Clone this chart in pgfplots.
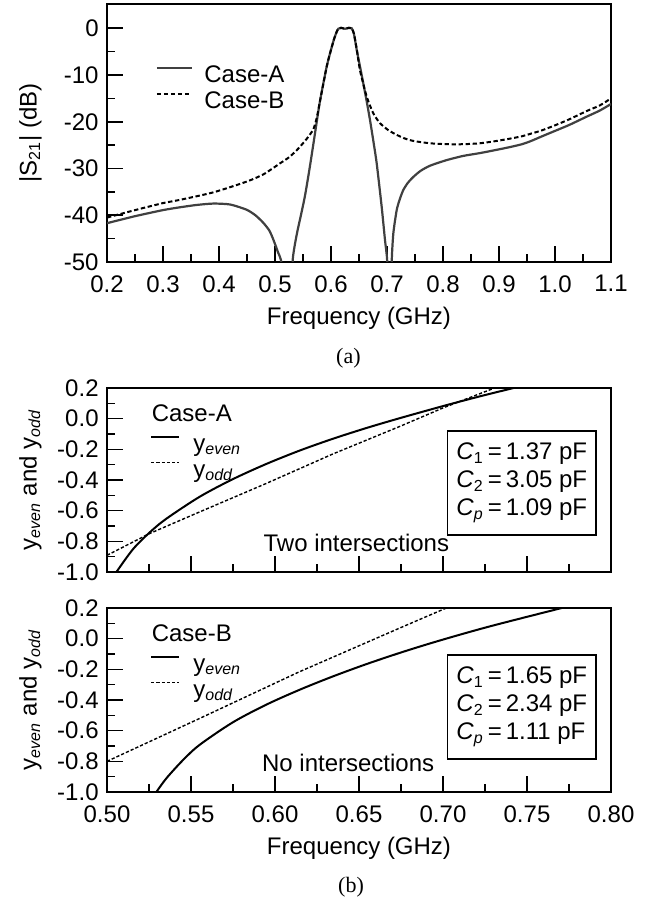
\documentclass[border=0pt]{standalone}
\usepackage{fontspec}
\setmainfont{Liberation Sans}
\newfontfamily\capfont{Liberation Serif}
\usepackage{pgfplots}
\pgfplotsset{compat=1.18}

\tikzset{
  cbox/.style={draw, line width=0.8pt, align=left, inner xsep=4.5pt, inner ysep=6pt,
    font=\fontsize{12}{12.5}\selectfont},
}
\pgfplotsset{
  myaxis/.style={
    scale only axis, width=252pt,
    tick pos=left, tick align=inside,
    major tick length=8pt, minor tick length=4pt,
    tick style={line width=0.8pt, black},
    minor tick num=1,
    axis line style={line width=1.3pt},
    /pgf/number format/assume math mode=true,
    tick label style={font=\fontsize{12}{14}\selectfont},
    xticklabel style={yshift=-2.5pt},
    label style={font=\fontsize{12}{14}\selectfont},
    xlabel style={at={(axis description cs:0.5,0)}, anchor=center, yshift=-28pt},
    ylabel style={at={(axis description cs:-0.152,0.5)}, anchor=center},
    legend cell align=left,
  },
  solidA/.style={black!75, line width=1.1pt},
  dashB/.style={black, line width=1pt, dash pattern=on 2.2pt off 1.3pt},
  solidE/.style={black, line width=1pt},
  dashO/.style={black, line width=0.7pt, dash pattern=on 1.6pt off 1pt},
}

\pgfplotstableread{
f db
0.200 -41.7
0.250 -40.2
0.300 -38.9
0.330 -38.3
0.360 -37.8
0.390 -37.5
0.420 -37.7
0.449 -38.8
0.465 -40.0
0.479 -41.6
0.490 -43.3
0.497 -45.2
0.505 -47.8
0.512 -50.5
0.515 -60
0.518 -75
0.528 -75
0.531 -55
0.5316 -49.6
0.535 -46.6
0.540 -43.4
0.547 -39.6
0.5536 -35.8
0.562 -29.8
0.5714 -22.5
0.580 -15.8
0.5923 -8.2
0.600 -4.6
0.606 -2.1
0.610 -0.8
0.613 -0.1
0.618 0.1
0.625 -0.1
0.632 0.1
0.637 0
0.641 -1.2
0.6459 -4.6
0.652 -8.3
0.6577 -11.8
0.6637 -15.6
0.6696 -19.6
0.6756 -24.1
0.6816 -28.9
0.6905 -38.2
0.6964 -45.3
0.7005 -50
0.7025 -60
0.704 -75
0.706 -75
0.7075 -60
0.7084 -50
0.7113 -43.9
0.7173 -38.9
0.7230 -36.5
0.7291 -34.6
0.737 -33.1
0.747 -31.8
0.760 -30.5
0.7768 -29.4
0.8066 -28.2
0.8363 -27.3
0.866 -26.7
0.8959 -26.0
0.920 -25.4
0.9411 -24.8
0.9554 -24.2
0.975 -23.2
0.997 -22.1
1.025 -20.7
1.0566 -18.9
1.080 -17.6
1.100 -16.2
}\caseA

\pgfplotstableread{
f db
0.200 -40.5
0.250 -38.9
0.300 -37.4
0.3304 -36.7
0.3899 -35.1
0.4494 -32.8
0.480 -31.2
0.5089 -28.9
0.525 -27.6
0.5387 -26.1
0.555 -23.9
0.5685 -21.6
0.575 -18.9
0.580 -15.8
0.5923 -8.2
0.600 -4.6
0.606 -2.1
0.610 -0.8
0.613 -0.1
0.618 0.1
0.625 -0.1
0.632 0.1
0.637 0
0.641 -1.2
0.6459 -4.4
0.6518 -9.0
0.6637 -14.6
0.6756 -18.2
0.6875 -20.3
0.7025 -21.8
0.7173 -22.8
0.730 -23.5
0.747 -24.1
0.7768 -24.6
0.8066 -24.8
0.8363 -24.8
0.866 -24.6
0.8959 -24.1
0.920 -23.6
0.9411 -23.1
0.9554 -22.6
0.975 -21.9
0.997 -20.9
1.025 -19.5
1.0566 -17.7
1.080 -16.5
1.100 -15.0
}\caseB

\pgfplotstableread{
f y
0.504 -1.03
0.5056 -1.0
0.5155 -0.851
0.5254 -0.742
0.5354 -0.652
0.5552 -0.509
0.575 -0.394
0.5949 -0.295
0.6147 -0.208
0.6345 -0.131
0.6544 -0.061
0.6742 0.003
0.700 0.082
0.720 0.140
0.742 0.2
0.746 0.21
}\evenA

\pgfplotstableread{
f y
0.500 -0.891
0.5254 -0.749
0.5552 -0.608
0.5949 -0.422
0.6345 -0.230
0.6742 -0.051
0.700 0.070
0.7307 0.2
0.734 0.215
}\oddA

\pgfplotstableread{
f y
0.528 -1.03
0.5294 -1.0
0.5354 -0.910
0.5453 -0.791
0.5552 -0.692
0.575 -0.545
0.5949 -0.430
0.6147 -0.333
0.6345 -0.246
0.6544 -0.166
0.6742 -0.093
0.6923 -0.031
0.712 0.032
0.732 0.092
0.7696 0.197
0.774 0.21
}\evenB

\pgfplotstableread{
f y
0.500 -0.80
0.5552 -0.520
0.6147 -0.215
0.6742 0.069
0.702 0.2
0.705 0.214
}\oddB

\begin{document}
\fontsize{12}{14}\selectfont
\begin{tikzpicture}
\useasboundingbox (-53.5pt,-56pt) rectangle (271pt,396pt);

% ---------- (a) ----------
\begin{axis}[myaxis, name=top, at={(0pt,265pt)}, anchor=south west, height=129pt,
  xmin=0.2, xmax=1.1, ymin=-50, ymax=5.2,
  xtick={0.2,0.3,0.4,0.5,0.6,0.7,0.8,0.9,1.0,1.1},
  ytick={-50,-40,-30,-20,-10,0},
  xticklabel style={/pgf/number format/.cd, fixed, fixed zerofill, precision=1},
  yticklabel style={/pgf/number format/.cd, fixed, precision=0},
  xlabel={Frequency (GHz)},
  ylabel={|S\textsubscript{21}| (dB)},
  legend image code/.code={\draw[#1] (0pt,4.3pt) -- (17.4pt,4.3pt);},
  legend style={at={(axis description cs:0.096,0.768)}, anchor=north west,
    draw=none, fill=none, inner sep=0pt, row sep=1pt,
    nodes={inner sep=0pt, text height=9pt, text depth=3pt},
    /tikz/every odd column/.append style={column sep=5.8pt},
    font=\fontsize{12}{14}\selectfont},
]
\addplot[solidA, smooth, tension=0.4] table[x=f, y=db] {\caseA};
\addlegendentry{Case-A}
\addplot[dashB, smooth, tension=0.4] table[x=f, y=db] {\caseB};
\addlegendentry{Case-B}
\end{axis}

% ---------- (b) upper ----------
\begin{axis}[myaxis, at={(0pt,110pt)}, anchor=south west, height=92pt,
  xmin=0.5, xmax=0.8, ymin=-1, ymax=0.2,
  xtick={0.5,0.55,0.6,0.65,0.7,0.75,0.8},
  ytick={-1,-0.8,-0.6,-0.4,-0.2,0,0.2},
  xticklabels={},
  yticklabel style={/pgf/number format/.cd, fixed, fixed zerofill, precision=1},
  ylabel={y\textsubscript{\textit{even}} and y\textsubscript{\textit{odd}}},
  legend image code/.code={\draw[#1] (0pt,4.3pt) -- (14.1pt,4.3pt);},
  legend style={at={(axis description cs:0.085,0.757)}, anchor=north west,
    draw=none, fill=none, inner sep=0pt, row sep=1pt,
    nodes={inner sep=0pt, text height=9pt, text depth=3pt},
    /tikz/every odd column/.append style={column sep=6.5pt},
    font=\fontsize{12}{14}\selectfont},
]
\addplot[solidE, smooth] table[x=f, y=y] {\evenA};
\addlegendentry{y\textsubscript{\textit{even}}}
\addplot[dashO] table[x=f, y=y] {\oddA};
\addlegendentry{y\textsubscript{\textit{odd}}}
\node[anchor=west, inner sep=0pt] at (axis description cs:0.088,0.864) {Case-A};
\node[cbox] at (axis description cs:0.823,0.484)
  {\textit{C}\textsubscript{1}\,=\,1.37 pF\\[1.5pt]\textit{C}\textsubscript{2}\,=\,3.05 pF\\[1.5pt]\textit{C}\textsubscript{\textit{p}}\,=\,1.09 pF};
\node[anchor=west, inner sep=0pt] at (axis description cs:0.310,0.156) {Two intersections};
\end{axis}

% ---------- (b) lower ----------
\begin{axis}[myaxis, name=bot, at={(0pt,0pt)}, anchor=south west, height=92pt,
  xmin=0.5, xmax=0.8, ymin=-1, ymax=0.2,
  xtick={0.5,0.55,0.6,0.65,0.7,0.75,0.8},
  ytick={-1,-0.8,-0.6,-0.4,-0.2,0,0.2},
  xticklabel style={/pgf/number format/.cd, fixed, fixed zerofill, precision=2},
  yticklabel style={/pgf/number format/.cd, fixed, fixed zerofill, precision=1},
  xlabel={Frequency (GHz)},
  ylabel={y\textsubscript{\textit{even}} and y\textsubscript{\textit{odd}}},
  legend image code/.code={\draw[#1] (0pt,4.3pt) -- (14.1pt,4.3pt);},
  legend style={at={(axis description cs:0.085,0.757)}, anchor=north west,
    draw=none, fill=none, inner sep=0pt, row sep=1pt,
    nodes={inner sep=0pt, text height=9pt, text depth=3pt},
    /tikz/every odd column/.append style={column sep=6.5pt},
    font=\fontsize{12}{14}\selectfont},
]
\addplot[solidE, smooth] table[x=f, y=y] {\evenB};
\addlegendentry{y\textsubscript{\textit{even}}}
\addplot[dashO] table[x=f, y=y] {\oddB};
\addlegendentry{y\textsubscript{\textit{odd}}}
\node[anchor=west, inner sep=0pt] at (axis description cs:0.088,0.864) {Case-B};
\node[cbox] at (axis description cs:0.823,0.462)
  {\textit{C}\textsubscript{1}\,=\,1.65 pF\\[1.5pt]\textit{C}\textsubscript{2}\,=\,2.34 pF\\[1.5pt]\textit{C}\textsubscript{\textit{p}}\,=\,1.11 pF};
\node[anchor=west, inner sep=0pt] at (axis description cs:0.307,0.156) {No intersections};
\end{axis}

\node[font=\capfont\fontsize{11}{13}\selectfont] at ([xshift=-5.3pt,yshift=-48pt]top.south) {(a)};
\node[font=\capfont\fontsize{11}{13}\selectfont] at ([xshift=-4pt,yshift=-47.5pt]bot.south) {(b)};
\end{tikzpicture}
\end{document}
